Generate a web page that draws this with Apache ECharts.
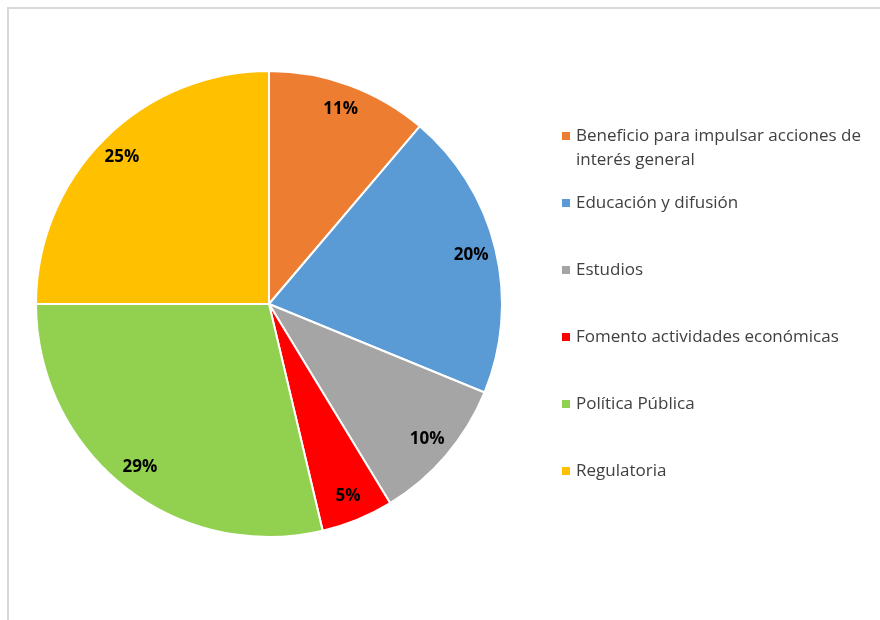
<!DOCTYPE html>
<html>
<head>
<meta charset="utf-8">
<script src="https://cdn.jsdelivr.net/npm/echarts@6/dist/echarts.min.js"></script>
<style>html,body{margin:0;padding:0;background:#fff}#c{width:880px;height:620px}</style>
</head>
<body>
<div id="c"></div>
<script>
const categories = ['Beneficio para impulsar acciones de interés general', 'Educación y difusión', 'Estudios', 'Fomento actividades económicas', 'Política Pública', 'Regulatoria'];
const legendLines = [['Beneficio para impulsar acciones de', 'interés general'], ['Educación y difusión'], ['Estudios'], ['Fomento actividades económicas'], ['Política Pública'], ['Regulatoria']];
const values = [11.2, 20.0, 10.1, 5.0, 28.7, 25.0];
const colors = ['#ED7D31', '#5B9BD5', '#A5A5A5', '#FF0000', '#92D050', '#FFC000'];

const chart = echarts.init(document.getElementById('c'));
const data = categories.map((n, i) => ({ name: n, value: values[i], itemStyle: { color: colors[i] } }));
const FONT = 'Open Sans';
const rich = {
  t: { fontFamily: FONT, fontSize: 17, color: '#404040', lineHeight: 24, verticalAlign: 'middle' },
  g: { width: 6, height: 8, verticalAlign: 'middle' },
  s: { width: 14, height: 8, verticalAlign: 'middle' }
};
colors.forEach((c, i) => { rich['i' + i] = { width: 8, height: 8, backgroundColor: c, verticalAlign: 'middle' }; });

chart.setOption({
  animation: false,
  color: colors,
  graphic: [{ type: 'rect', shape: { x: 8, y: 8, width: 1000, height: 1000 }, style: { fill: 'none', stroke: '#D9D9D9', lineWidth: 2 }, silent: true }],
  legend: {
    orient: 'vertical', left: 551, top: 119, itemGap: 19,
    icon: 'none', itemWidth: 1, itemHeight: 1,
    selectedMode: false,
    data: categories,
    formatter: function (name) {
      const i = categories.indexOf(name);
      const lines = legendLines[i];
      const first = '{i' + i + '|}{g|}{t|' + lines[0] + '}';
      const second = lines.length > 1 ? '{s|}{t|' + lines[1] + '}' : '{t| }';
      return first + '\n' + second;
    },
    textStyle: { rich: rich, lineHeight: 24 }
  },
  series: [{
    type: 'pie', center: [269, 304], radius: [0, 233], startAngle: 90, clockwise: true,
    data: data, label: { show: false }, labelLine: { show: false },
    itemStyle: { borderColor: '#fff', borderWidth: 2 }, silent: true
  }, {
    type: 'pie', center: [269, 304], radius: [177, 233], startAngle: 90, clockwise: true,
    data: categories.map((n, i) => ({ name: n, value: values[i] })),
    itemStyle: { color: 'rgba(0,0,0,0)' }, silent: true, legendHoverLink: false,
    label: {
      show: true, position: 'inside', fontFamily: FONT, fontWeight: 'bold', fontSize: 17, color: '#000',
      formatter: p => Math.round(p.percent) + '%'
    },
    labelLine: { show: false }
  }]
});
</script>
</body>
</html>
